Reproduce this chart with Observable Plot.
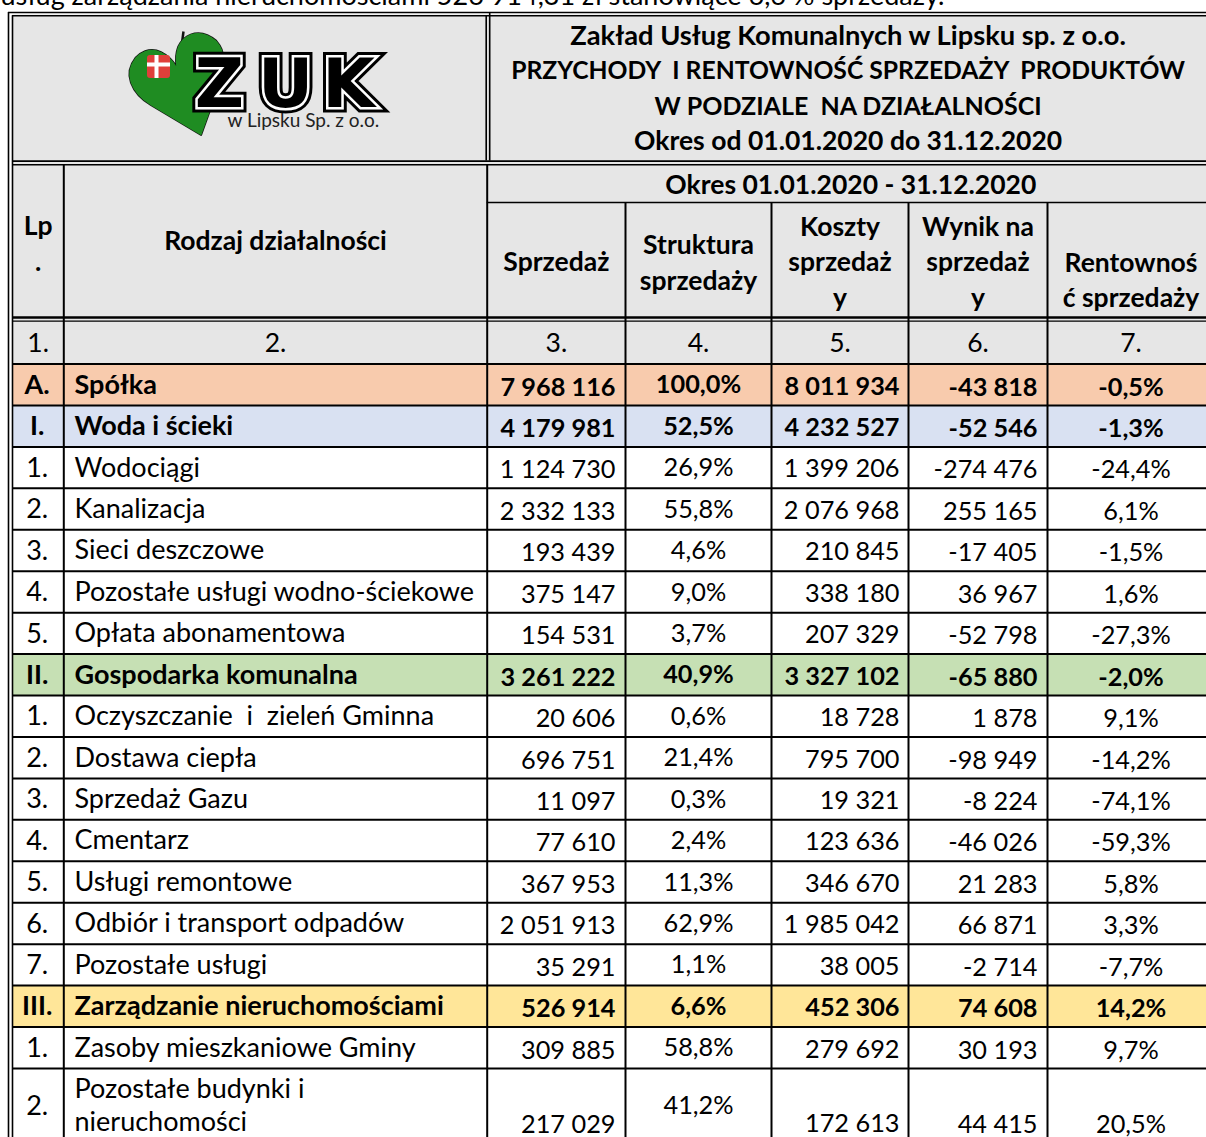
<!DOCTYPE html>
<html><head><meta charset="utf-8">
<script src="https://cdn.jsdelivr.net/npm/d3@7"></script>
<script src="https://cdn.jsdelivr.net/npm/@observablehq/plot@0.6"></script>
<style>
html,body{margin:0;padding:0;background:#fff;overflow:hidden;}
svg text{white-space:pre;}
</style></head><body><div id="chart"></div>
<script>
// ---------- DATA ----------
const introText = "usług zarządzania nieruchomościami 526 914,31 zł stanowiące 6,6 % sprzedaży.";
const titleLines = [
  "Zakład Usług Komunalnych w Lipsku sp. z o.o.",
  "PRZYCHODY  I RENTOWNOŚĆ SPRZEDAŻY  PRODUKTÓW",
  "W PODZIALE  NA DZIAŁALNOŚCI",
  "Okres od 01.01.2020 do 31.12.2020"
];
const logoName = "ZUK";
const logoSub = "w Lipsku Sp. z o.o.";
const periodLabel = "Okres 01.01.2020 - 31.12.2020";
const colHeaders = [["Lp","."],["Rodzaj działalności"],["Sprzedaż"],["Struktura","sprzedaży"],["Koszty","sprzedaż","y"],["Wynik na","sprzedaż","y"],["Rentownoś","ć sprzedaży"]];
const colNumbers = ["1.","2.","3.","4.","5.","6.","7."];

const lp = ["A.","I.","1.","2.","3.","4.","5.","II.","1.","2.","3.","4.","5.","6.","7.","III.","1.","2."];
const level = ["A","I","","","","","","II","","","","","","","","III","",""];
const rodzaj = ["Spółka","Woda i ścieki","Wodociągi","Kanalizacja","Sieci deszczowe","Pozostałe usługi wodno-ściekowe","Opłata abonamentowa","Gospodarka komunalna","Oczyszczanie  i  zieleń Gminna","Dostawa ciepła","Sprzedaż Gazu","Cmentarz","Usługi remontowe","Odbiór i transport odpadów","Pozostałe usługi","Zarządzanie nieruchomościami","Zasoby mieszkaniowe Gminy","Pozostałe budynki i\nnieruchomości"];
const sprzedaz = [7968116,4179981,1124730,2332133,193439,375147,154531,3261222,20606,696751,11097,77610,367953,2051913,35291,526914,309885,217029];
const struktura = [100.0,52.5,26.9,55.8,4.6,9.0,3.7,40.9,0.6,21.4,0.3,2.4,11.3,62.9,1.1,6.6,58.8,41.2];
const koszty = [8011934,4232527,1399206,2076968,210845,338180,207329,3327102,18728,795700,19321,123636,346670,1985042,38005,452306,279692,172613];
const wynik = [-43818,-52546,-274476,255165,-17405,36967,-52798,-65880,1878,-98949,-8224,-46026,21283,66871,-2714,74608,30193,44415];
const rentownosc = [-0.5,-1.3,-24.4,6.1,-1.5,1.6,-27.3,-2.0,9.1,-14.2,-74.1,-59.3,5.8,3.3,-7.7,14.2,9.7,20.5];

// ---------- LAYOUT / STYLE ----------
const W = 1206, H = 1137;
const FONT = "Lato";
const FS = 26.5;          // header text
const FS_NAME = 27;       // Lp + names
const FS_NUM = 25.3;      // numeric cells
const titleSizes = [27.3, 24.7, 25, 26.5];
const GRAY = "#e6e6e6";
const levelFill = {A: "#f8cbad", I: "#d9e1f2", II: "#c6e0b4", III: "#ffe699", "": "#ffffff"};
const colEdges = [12, 63.3, 486.7, 625, 771, 908, 1047, 1214];
const XR = colEdges[colEdges.length - 1];
const colCenter = colEdges.slice(0, -1).map((e, i) => (e + colEdges[i + 1]) / 2);
const colX = [colCenter[0] - 1, colEdges[1] + 10.7, colEdges[3] - 10, colCenter[3], colEdges[5] - 9, colEdges[6] - 10, colCenter[6]];
const colAnchor = ["middle","start","end","middle","end","end","middle"];
const colVAlign = ["middle","top","bottom","middle","bottom","bottom","bottom"];
const headerLineY = [[226, 262],[241],[262],[245, 281],[227, 262, 298],[227, 262, 298],[263, 298]];
const titleY0 = 36, titleStep = 35;
const rowTop0 = 363.5, rowH = 41.44, lastRowH = 74;
const rowTop = lp.map((_, i) => rowTop0 + i * rowH);
const rowBot = lp.map((_, i) => rowTop[i] + (i === lp.length - 1 ? lastRowH : rowH));

// ---------- FORMAT ----------
const loc = d3.formatLocale({decimal: ",", thousands: " ", grouping: [3], currency: ["", ""], minus: "-"});
const fInt = loc.format(",d");
const fDec = loc.format(",.1f");
const fPct = v => fDec(v) + "%";

// ---------- BUILD ----------
const fills = [
  {x1: 12, x2: XR, y1: 14.5, y2: rowTop0, fill: GRAY},
  ...lp.map((_, i) => ({x1: 12, x2: XR, y1: rowTop[i], y2: rowBot[i], fill: levelFill[level[i]]}))
];

const hLines = [
  {y: 12, x1: 8, x2: XR, w: 1.6},
  {y: 15.2, x1: 12, x2: XR, w: 1.4},
  {y: 160.6, x1: 12, x2: XR, w: 1.6},
  {y: 164.2, x1: 12, x2: XR, w: 1.6},
  {y: 202, x1: colEdges[2], x2: XR, w: 1.5},
  {y: 317, x1: 12, x2: XR, w: 2.6},
  {y: 320.6, x1: 12, x2: XR, w: 1.2},
  ...rowTop.map(y => ({y, x1: 12, x2: XR, w: 2})),
  {y: rowBot[rowBot.length - 1], x1: 12, x2: XR, w: 2}
];
const vLines = [
  {x: 8, y1: 12, y2: H, w: 1.6},
  {x: 12, y1: 15.2, y2: H, w: 1.6},
  {x: 485.7, y1: 15.2, y2: 160.6, w: 1.6},
  {x: 489.2, y1: 12, y2: 160.6, w: 1.6},
  {x: colEdges[1], y1: 164.2, y2: H, w: 2},
  {x: colEdges[2], y1: 164.2, y2: H, w: 2},
  ...colEdges.slice(3, 7).map(x => ({x, y1: 202, y2: H, w: 2}))
];

// text items
const texts = [];
function T(x, y, t, anchor, weight, size) {
  texts.push({x, y, t, anchor, weight, size});
}
const titleCx = (489.2 + W) / 2;
titleLines.forEach((t, i) => T(titleCx, titleY0 + i * titleStep, t, "middle", "bold", titleSizes[i]));
T((colEdges[2] + XR) / 2, 185, periodLabel, "middle", "bold", FS);
colHeaders.forEach((lines, c) => lines.forEach((t, k) => T(colCenter[c], headerLineY[c][k], t, "middle", "bold", FS)));
colNumbers.forEach((t, c) => T(colCenter[c], 343, t, "middle", "normal", FS));
lp.forEach((_, i) => {
  const bold = level[i] !== "" ? "bold" : "normal";
  const vals = [lp[i], rodzaj[i], fInt(sprzedaz[i]), fPct(struktura[i]), fInt(koszty[i]), fInt(wynik[i]), fPct(rentownosc[i])];
  vals.forEach((v, c) => {
    const top = rowTop[i], bot = rowBot[i];
    String(v).split("\n").forEach((line, k) => {
      let y;
      if (colVAlign[c] === "middle") y = (top + bot) / 2 + 0.5;
      else if (colVAlign[c] === "top") y = top + 21 + k * 33;
      else y = bot - (c === 4 ? 19 : 18);
      T(colX[c], y, line, colAnchor[c], bold, c < 2 ? FS_NAME : FS_NUM);
    });
  });
});

const groups = d3.groups(texts, d => d.anchor + "|" + d.weight + "|" + d.size);
const textMarks = groups.map(([key, items]) => {
  const [anchor, weight, size] = key.split("|");
  return Plot.text(items, {x: "x", y: "y", text: "t", textAnchor: anchor, fontWeight: weight, fontSize: +size, fontFamily: FONT, fill: "#000", lineAnchor: "middle"});
});

// logo (decoration)
const logoLayout = {
  leaf: {x: 186, y: 94, size: 135},
  stem: {x1: 183, y1: 31, x2: 181, y2: 46},
  shield: {x1: 147, x2: 170, y1: 55, y2: 78},
  crossV: {x1: 154.5, x2: 158.5, y1: 55, y2: 78},
  crossH: {x1: 147, x2: 170, y1: 62.5, y2: 66.5},
  letterX: [219, 285, 348], letterY: 85, letterSize: 68,
  sub: {x: 227, y: 120, size: 19}
};
const letters = logoName.split("").map((ch, i) => ({ch, x: logoLayout.letterX[i], y: logoLayout.letterY}));
const letterOpts = {x: "x", y: "y", text: "ch", fontSize: logoLayout.letterSize, fontWeight: "bold", fontFamily: "DejaVu Sans", fill: "#000", paintOrder: "stroke", lineAnchor: "middle", strokeLinejoin: "miter"};

const plot = Plot.plot({
  width: W, height: H,
  margin: 0,
  x: {type: "linear", domain: [0, W], range: [0, W], axis: null},
  y: {type: "linear", domain: [0, H], range: [0, H], axis: null},
  color: {type: "identity"},
  style: {background: "#fff", overflow: "hidden"},
  marks: [
    Plot.rect(fills, {x1: "x1", x2: "x2", y1: "y1", y2: "y2", fill: "fill"}),
    Plot.text([introText], {x: 0, y: 4, text: d => d, textAnchor: "start", lineAnchor: "bottom", fontSize: FS_NAME, fontFamily: FONT, fill: "#000"}),
    // logo
    Plot.link([logoLayout.stem], {x1: "x1", y1: "y1", x2: "x2", y2: "y2", stroke: "#111", strokeWidth: 2.5}),
    Plot.text([logoLayout.leaf], {x: "x", y: "y", text: () => "♥", fontSize: logoLayout.leaf.size, rotate: -20, fill: "#1f8c22", stroke: "#111", strokeWidth: 1.5, fontFamily: "DejaVu Sans", lineAnchor: "middle"}),
    Plot.rect([logoLayout.shield], {x1: "x1", x2: "x2", y1: "y1", y2: "y2", fill: "#e0403a", rx: 3}),
    Plot.rect([logoLayout.crossV, logoLayout.crossH], {x1: "x1", x2: "x2", y1: "y1", y2: "y2", fill: "#fff"}),
    Plot.text(letters, {...letterOpts, stroke: "#000", strokeWidth: 11}),
    Plot.text(letters, {...letterOpts, stroke: "#fff", strokeWidth: 5}),
    Plot.text([logoLayout.sub], {x: "x", y: "y", text: () => logoSub, fontSize: logoLayout.sub.size, fontFamily: FONT, fill: "#222", textAnchor: "start", lineAnchor: "middle"}),
    // grid lines
    Plot.ruleY(hLines, {y: "y", x1: "x1", x2: "x2", strokeWidth: "w", stroke: "#000"}),
    Plot.ruleX(vLines, {x: "x", y1: "y1", y2: "y2", strokeWidth: "w", stroke: "#000"}),
    ...textMarks
  ]
});
document.getElementById("chart").append(plot);
</script></body></html>
